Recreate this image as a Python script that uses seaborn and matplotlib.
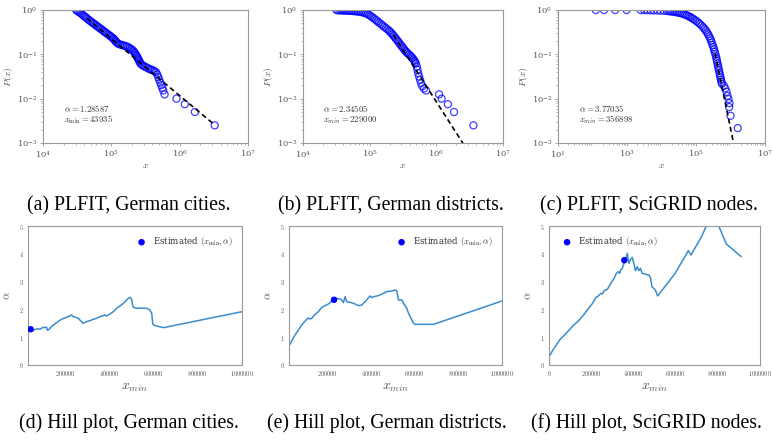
import numpy as np
import pandas as pd
import matplotlib
matplotlib.use("Agg")
import matplotlib.pyplot as plt
import seaborn as sns

sns.set_style("white")
plt.rcParams["mathtext.fontset"] = "cm"
plt.rcParams["font.family"] = ["DejaVu Serif"]

cities_x = [3.06e4, 3.31e4, 3.58e4, 3.92e4, 4.29e4, 4.69e4, 5.13e4, 5.61e4, 6.14e4, 6.70e4,
            7.33e4, 8.02e4, 8.77e4, 9.59e4, 1.05e5, 1.12e5, 1.17e5, 1.27e5, 1.42e5, 1.59e5,
            1.77e5, 1.94e5, 2.10e5, 2.22e5, 2.35e5, 2.45e5, 2.57e5, 2.69e5, 2.94e5, 3.29e5,
            3.67e5, 4.11e5, 4.50e5, 4.70e5, 4.86e5, 5.02e5, 5.20e5, 5.37e5, 5.56e5, 5.75e5,
            6.01e5, 8.99e5, 1.19e6, 1.67e6, 3.26e6,
            3.18e4, 3.44e4, 3.75e4, 4.10e4, 4.48e4, 4.90e4, 5.36e4, 5.86e4, 6.41e4, 7.01e4,
            7.67e4, 8.39e4, 9.18e4, 1.00e5, 1.08e5, 1.15e5, 1.22e5, 1.34e5, 1.50e5, 1.68e5,
            1.86e5, 2.02e5, 2.16e5, 2.28e5, 2.40e5, 2.51e5, 2.63e5, 2.81e5, 3.11e5, 3.47e5,
            3.89e5, 4.30e5]
cities_p = [1.0, 0.916, 0.841, 0.745, 0.671, 0.596, 0.537, 0.484, 0.437, 0.394,
            0.355, 0.320, 0.288, 0.260, 0.234, 0.211, 0.191, 0.172, 0.163, 0.155,
            0.145, 0.132, 0.119, 0.106, 0.0923, 0.0804, 0.0700, 0.0610, 0.0550, 0.0504,
            0.0462, 0.0432, 0.0395, 0.0351, 0.0305, 0.0266, 0.0232, 0.0202, 0.0176, 0.0153,
            0.0125, 0.0100, 0.0075, 0.0050, 0.0025,
            0.958, 0.879, 0.792, 0.708, 0.633, 0.565, 0.510, 0.460, 0.414, 0.374,
            0.337, 0.304, 0.274, 0.247, 0.222, 0.201, 0.181, 0.167, 0.159, 0.150,
            0.138, 0.126, 0.112, 0.0988, 0.0861, 0.0750, 0.0653, 0.0578, 0.0526, 0.0482,
            0.0447, 0.0413]

districts_x = [3.18e4, 3.56e4, 3.98e4, 4.46e4, 4.99e4, 5.60e4, 6.27e4, 7.02e4, 7.85e4, 8.79e4,
               9.86e4, 1.10e5, 1.24e5, 1.38e5, 1.55e5, 1.74e5, 1.95e5, 2.13e5, 2.30e5, 2.49e5,
               2.70e5, 2.92e5, 3.16e5, 3.43e5, 3.71e5, 4.06e5, 4.40e5, 4.70e5, 4.92e5, 5.09e5,
               5.21e5, 5.33e5, 5.51e5, 5.70e5, 5.90e5, 6.17e5, 6.53e5, 7.00e5,
               1.10e6, 1.20e6, 1.49e6, 1.84e6, 3.60e6,
               3.36e4, 3.77e4, 4.22e4, 4.72e4, 5.29e4, 5.92e4, 6.63e4, 7.43e4, 8.32e4, 9.31e4,
               1.04e5, 1.17e5, 1.31e5, 1.47e5, 1.64e5, 1.84e5, 2.03e5, 2.21e5, 2.40e5, 2.60e5,
               2.81e5, 3.04e5, 3.29e5, 3.56e5, 3.88e5, 4.23e5, 4.55e5, 4.81e5]
districts_p = [1.0, 0.985, 0.975, 0.966, 0.958, 0.948, 0.933, 0.916, 0.885, 0.841,
               0.771, 0.684, 0.596, 0.519, 0.452, 0.394, 0.343, 0.299, 0.260, 0.222,
               0.191, 0.163, 0.140, 0.119, 0.106, 0.0938, 0.0817, 0.0711, 0.0619, 0.0531,
               0.0447, 0.0376, 0.0316, 0.0266, 0.0224, 0.0191, 0.0170, 0.0153,
               0.0125, 0.0100, 0.0075, 0.0050, 0.0025,
               0.983, 0.983, 0.975, 0.966, 0.958, 0.941, 0.925, 0.902, 0.863, 0.806,
               0.726, 0.638, 0.556, 0.484, 0.422, 0.367, 0.320, 0.279, 0.240, 0.206,
               0.176, 0.151, 0.129, 0.112, 0.0997, 0.0875, 0.0762, 0.0664]

nodes_x = [124, 215, 454, 977, 2510, 3160, 3890, 4900, 6030, 7590, 9330, 11750, 14450,
           18070, 22490, 28050, 34910, 43450, 54080, 67450, 83950, 104500, 130000,
           162200, 193200, 224900, 257000, 286400, 319900, 349100, 381100, 407400,
           434500, 464500, 495500, 529700, 564900,
           645700, 704700, 769100, 820400, 877000, 935400, 916200, 1000000, 1622000,
           16220, 20180, 25120, 31260, 38910, 48530, 60390, 75160, 93540, 116700,
           145200, 177000, 208500, 240400, 271200, 302700, 334200, 364800, 393800, 420700,
           449100, 479700, 512600, 547000]
nodes_p = [1.0, 1.0, 1.0, 1.0, 0.998, 0.995, 0.99, 0.985, 0.98, 0.975, 0.968, 0.96, 0.955,
           0.933, 0.917, 0.886, 0.856, 0.813, 0.759, 0.696, 0.627, 0.556, 0.484,
           0.407, 0.343, 0.283, 0.230, 0.184, 0.145, 0.1135, 0.0891, 0.0700,
           0.0550, 0.0432, 0.0339, 0.0266, 0.0216,
           0.0195, 0.0170, 0.0143, 0.0116, 0.00977, 0.00794, 0.00646, 0.00411, 0.00217,
           0.941, 0.925, 0.902, 0.871, 0.834, 0.785, 0.726, 0.661, 0.590, 0.519,
           0.444, 0.374, 0.312, 0.255, 0.206, 0.163, 0.128, 0.1005, 0.0789, 0.0619,
           0.0486, 0.0382, 0.0300, 0.0240]

# fitted power laws: alpha, x_min, P(x_min), last x of the fit line
fit_alpha = [1.28587, 2.34505, 3.77035]
fit_xmin = [43935, 229000, 356898]
fit_p_at_xmin = [0.65, 0.27, 0.105]
fit_x_end = [3.26e6, 3.6e6, 1.622e6]
fit_texts = ["$\\alpha = 1.28587$\n$x_{\\rm min} = 43935$",
             "$\\alpha = 2.34505$\n$x_{min} = 229000$",
             "$\\alpha = 3.77035$\n$x_{min} = 356898$"]

# ---------------- data: Hill plots ----------------
hill_cities_xmin = [32100, 47300, 62400, 77500, 85100, 92600, 100200, 107800, 115300, 119900,
                    127400, 137990, 153100, 168200, 183400, 198500, 206100, 221200, 228700, 236300,
                    248400, 259000, 266600, 281700, 296800, 311900, 327000, 342200, 357300, 372400,
                    380000, 387500, 402600, 417800, 432900, 448000, 463100, 478200, 485800, 493300,
                    500900, 505500, 508500, 523600, 538700, 569000, 584100, 591600, 594700, 596200,
                    599200, 614300, 644600, 1000000]
hill_cities_alpha = [1.259, 1.235, 1.271, 1.307, 1.283, 1.319, 1.355, 1.343, 1.367, 1.247,
                     1.283, 1.379, 1.475, 1.559, 1.643, 1.691, 1.715, 1.763, 1.799, 1.739,
                     1.715, 1.679, 1.619, 1.499, 1.559, 1.595, 1.643, 1.679, 1.739, 1.775,
                     1.799, 1.763, 1.835, 1.918, 2.038, 2.122, 2.218, 2.338, 2.398, 2.434,
                     2.362, 2.158, 2.074, 2.038, 2.050, 2.038, 1.978, 1.859, 1.619, 1.499,
                     1.439, 1.403, 1.343, 1.918]

hill_districts_xmin = [22200, 49800, 80500, 103400, 111100, 118800, 126400, 141800, 157100, 172400,
                       187800, 203100, 215300, 226000, 233700, 241400, 256700, 264300, 272000, 279700,
                       287400, 302700, 318000, 325700, 341000, 356300, 371700, 387000, 394600, 402300,
                       410000, 425300, 440600, 455900, 471300, 494300, 509600, 517300, 521900, 524900,
                       540300, 547900, 563200, 570900, 578600, 586200, 593900, 601500, 685800, 1000000]
hill_districts_alpha = [0.683, 1.079, 1.439, 1.643, 1.691, 1.655, 1.679, 1.823, 1.918, 2.074,
                        2.134, 2.194, 2.278, 2.338, 2.422, 2.398, 2.374, 2.338, 2.242, 2.458,
                        2.278, 2.254, 2.218, 2.194, 2.134, 2.158, 2.278, 2.422, 2.482, 2.422,
                        2.458, 2.482, 2.518, 2.578, 2.638, 2.662, 2.698, 2.662, 2.458, 2.338,
                        2.338, 2.218, 2.038, 1.859, 1.739, 1.619, 1.499, 1.463, 1.463, 2.302]

hill_nodes_xmin = [120, 18800, 50100, 81400, 112700, 144000, 167500, 190900, 206600, 222200,
                   230100, 245700, 253500, 261400, 277000, 292700, 308300, 319300, 328700, 335000,
                   339600, 347400, 355300, 363300, 370900, 378700, 386600, 394400, 402200, 410000,
                   417900, 425700, 433500, 441300, 472600, 480500, 488300, 503900, 514900, 597800,
                   660400, 673000, 723000, 776200, 840400, 910800]
hill_nodes_alpha = [0.300, 0.540, 0.899, 1.139, 1.403, 1.619, 1.835, 2.074, 2.218, 2.434,
                    2.458, 2.578, 2.554, 2.674, 2.722, 2.938, 3.118, 3.297, 3.357, 3.297,
                    3.417, 3.477, 3.657, 3.777, 4.017, 3.657, 3.801, 3.873, 3.657, 3.393,
                    3.537, 3.393, 3.477, 3.297, 3.237, 3.153, 2.818, 2.698, 2.482, 3.297,
                    4.113, 3.957, 4.616, 5.516, 4.353, 3.897]

hill_xticks = [0, 200000, 400000, 600000, 800000, 1000000]
hill_yticks = [0, 1, 2, 3, 4, 5]

captions_top = ["(a) PLFIT, German cities.", "(b) PLFIT, German districts.",
                "(c) PLFIT, SciGRID nodes."]
captions_bottom = ["(d) Hill plot, German cities.", "(e) Hill plot, German districts.",
                   "(f) Hill plot, SciGRID nodes."]

GRAY = "#555555"
SPINE = "#999999"
LINE_BLUE = "#3a8ccc"

fig = plt.figure(figsize=(7.73, 4.41), dpi=100)
W, H = 773.0, 441.0


def rect(l, r, t, b):
    return [l / W, 1 - b / H, (r - l) / W, (b - t) / H]


def style_axes(ax):
    for s in ax.spines.values():
        s.set_color(SPINE)
        s.set_linewidth(0.8)


def ccdf_panel(r, xs, ps, k, xlim, xticks):
    ax = fig.add_axes(r)
    df = pd.DataFrame({"x": xs, "P": ps})
    sns.scatterplot(data=df, x="x", y="P", ax=ax, marker="o", s=26,
                    facecolors="none", edgecolor="blue", linewidth=0.9, alpha=0.75)
    fx = np.array([fit_xmin[k], fit_x_end[k]], dtype=float)
    fp = fit_p_at_xmin[k] * (fx / fit_xmin[k]) ** (-fit_alpha[k])
    ax.plot(fx, fp, color="black", linestyle="--", linewidth=1.2, dashes=(3, 2))
    ax.set_xscale("log")
    ax.set_yscale("log")
    ax.set_xlim(*xlim)
    ax.set_ylim(1e-3, 1)
    ax.set_xticks(xticks)
    ax.set_yticks([1e-3, 1e-2, 1e-1, 1])
    ax.tick_params(which="both", direction="out", colors=SPINE, labelcolor=GRAY,
                   labelsize=6.0, bottom=True, left=True, pad=1.5)
    ax.tick_params(which="major", length=2.5, width=0.6)
    ax.tick_params(which="minor", length=1.5, width=0.5)
    ax.set_xlabel("$x$", fontsize=7, color=GRAY, labelpad=1)
    ax.set_ylabel("$P(x)$", fontsize=7, color=GRAY, labelpad=1)
    ax.text(0.10, 0.215, fit_texts[k], transform=ax.transAxes, fontsize=6.3,
            color="#333333", va="center", ha="left", linespacing=1.0)
    style_axes(ax)
    return ax


def hill_panel(r, xs, al, k, xlim, loc):
    ax = fig.add_axes(r)
    sns.lineplot(x=xs, y=al, ax=ax, color=LINE_BLUE, linewidth=1.1, sort=False)
    sns.scatterplot(x=[fit_xmin[k]], y=[fit_alpha[k]], ax=ax, color="blue", s=22,
                    edgecolor="none", zorder=3, label="Estimated $(x_{\\min}, \\alpha)$")
    ax.set_xlim(*xlim)
    ax.set_ylim(0, 5)
    ticks = [t for t in hill_xticks if xlim[0] <= t <= xlim[1]]
    ax.set_xticks(ticks)
    ax.set_xticklabels(["$%d$" % t for t in ticks])
    ax.set_yticks(hill_yticks)
    ax.set_yticklabels(["$%d$" % t for t in hill_yticks])
    ax.tick_params(labelsize=4.6, labelcolor=GRAY, length=0, pad=3)
    ax.set_xlabel("$x_{min}$", fontsize=10, color=GRAY, labelpad=1)
    ax.set_ylabel("$\\alpha$", fontsize=8, color=GRAY, labelpad=5)
    leg = ax.legend(loc=loc, frameon=False, fontsize=6.2, handletextpad=0.3,
                    borderaxespad=0.7, markerscale=1.0)
    for t in leg.get_texts():
        t.set_color("#333333")
    style_axes(ax)
    return ax


ccdf_panel(rect(43, 248, 10, 143), cities_x, cities_p, 0, (1e4, 1e7), [1e4, 1e5, 1e6, 1e7])
ccdf_panel(rect(303, 503, 10, 143), districts_x, districts_p, 1, (1e4, 1e7), [1e4, 1e5, 1e6, 1e7])
ccdf_panel(rect(558, 765, 10, 143), nodes_x, nodes_p, 2, (1e1, 1e7), [1e1, 1e3, 1e5, 1e7])

hill_panel(rect(28, 242, 226, 365), hill_cities_xmin, hill_cities_alpha, 0,
           (hill_cities_xmin[0], 1000000), "upper right")
hill_panel(rect(289, 502, 226, 365), hill_districts_xmin, hill_districts_alpha, 1,
           (hill_districts_xmin[0], 1000000), "upper right")
hill_panel(rect(549, 760, 226, 365), hill_nodes_xmin, hill_nodes_alpha, 2,
           (0, 1000000), "upper left")

cap_x_top = [129, 391, 649]
cap_x_bot = [129, 387, 646]
for cx, txt in zip(cap_x_top, captions_top):
    fig.text(cx / W, 1 - 206 / H, txt, ha="center", va="center", fontsize=14.2,
             family="Liberation Serif", color="black")
for cx, txt in zip(cap_x_bot, captions_bottom):
    fig.text(cx / W, 1 - 423 / H, txt, ha="center", va="center", fontsize=14.2,
             family="Liberation Serif", color="black")

fig.savefig("out.png", dpi=100)
